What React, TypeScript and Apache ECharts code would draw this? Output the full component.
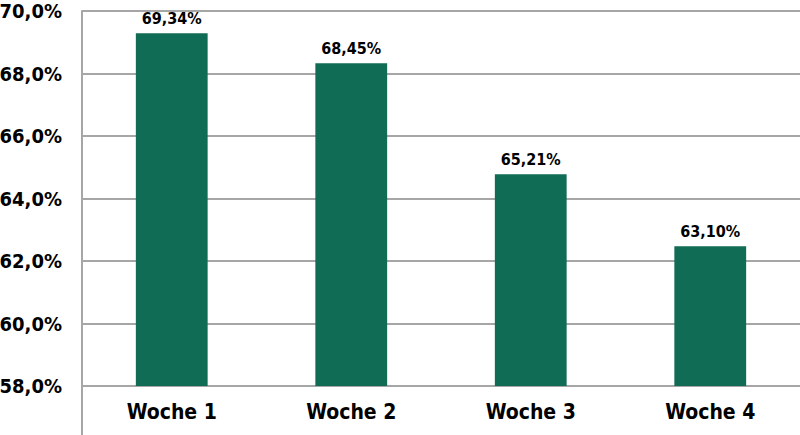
import React, { useEffect, useRef } from "react";
import * as echarts from "echarts";

const categories = ["Woche 1", "Woche 2", "Woche 3", "Woche 4"];
const barValues = [69.29, 68.33, 64.78, 62.47];
const barLabels = ["69,34%", "68,45%", "65,21%", "63,10%"];
const yMin = 58;
const yMax = 70;
const yInterval = 2;

const FONT = "'DejaVu Sans Condensed', 'Liberation Sans Narrow', sans-serif";

export default function App() {
  const ref = useRef<HTMLDivElement>(null);
  useEffect(() => {
    if (!ref.current) return;
    const chart = echarts.init(ref.current, undefined, { renderer: "svg" });
    chart.setOption({
      animation: false,
      backgroundColor: "#ffffff",
      grid: {
        left: 82,
        right: 0,
        top: 11,
        bottom: 49,
        containLabel: false,
        outerBoundsMode: "none",
      },
      xAxis: {
        type: "category",
        data: categories,
        axisLine: { show: false },
        axisTick: { show: false },
        axisLabel: {
          color: "#000000",
          fontFamily: FONT,
          fontWeight: "bold",
          fontSize: 21,
          margin: 15,
        },
      },
      yAxis: {
        type: "value",
        min: yMin,
        max: yMax,
        interval: yInterval,
        axisLine: { show: true, lineStyle: { color: "#a6a6a6", width: 2 } },
        axisTick: { show: false },
        splitLine: { show: true, lineStyle: { color: "#a6a6a6", width: 2 } },
        axisLabel: {
          color: "#000000",
          fontFamily: FONT,
          fontWeight: "bold",
          fontSize: 20,
          margin: 20,
          formatter: (v: number) => v.toFixed(1).replace(".", ",") + "%",
        },
      },
      graphic: [
        {
          type: "line",
          shape: { x1: 82, y1: 386, x2: 82, y2: 435 },
          style: { stroke: "#a6a6a6", lineWidth: 2 },
        },
      ],
      series: [
        {
          type: "bar",
          data: barValues,
          barWidth: "40%",
          itemStyle: { color: "#116c55" },
          label: {
            show: true,
            position: "top",
            distance: 7,
            color: "#000000",
            fontFamily: FONT,
            fontWeight: "bold",
            fontSize: 16,
            formatter: (p: any) => barLabels[p.dataIndex],
          },
        },
      ],
    });
    return () => chart.dispose();
  }, []);
  return (
    <div
      ref={ref}
      style={{ position: "fixed", left: 0, top: 0, width: 800, height: 435 }}
    />
  );
}
